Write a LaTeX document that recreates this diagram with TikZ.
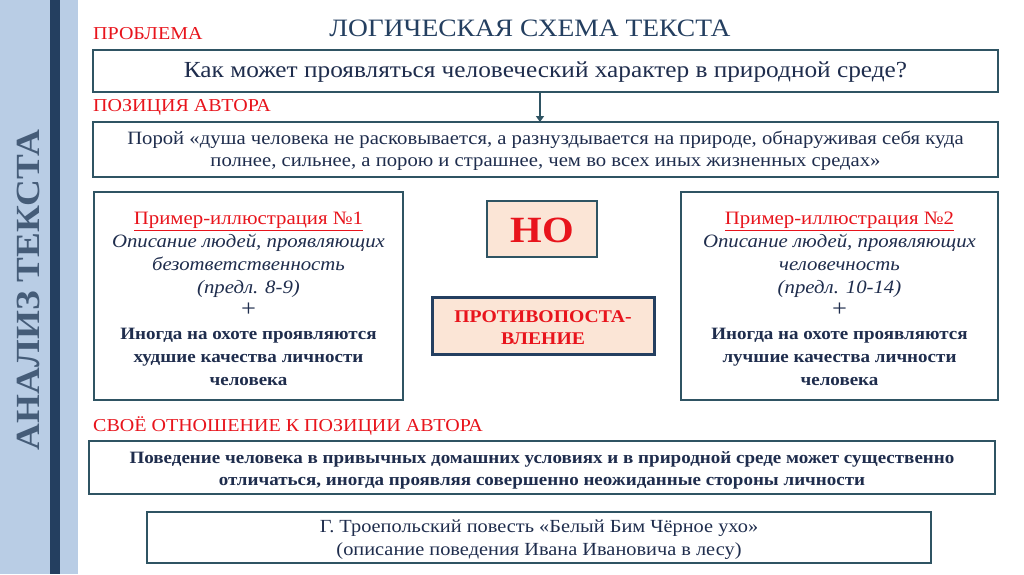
\documentclass[tikz,border=0pt]{standalone}
\usepackage{fontspec}
\setmainfont[FakeStretch=1.1]{Liberation Serif}
\usetikzlibrary{arrows.meta}
\definecolor{band}{HTML}{B9CDE5}
\definecolor{navy}{HTML}{243F60}
\definecolor{boxc}{HTML}{2F5463}
\definecolor{txt}{HTML}{1F2D4D}
\definecolor{redc}{HTML}{E8141C}
\definecolor{peach}{HTML}{FBE5D6}
\tikzset{
  frame/.style={draw=boxc, line width=2.6pt, inner sep=0pt},
  lbl/.style={anchor=west, text=redc, font=\fontsize{18.2}{20}\selectfont, inner sep=0pt},
  body/.style={text=txt, align=center, font=\fontsize{18.8}{22}\selectfont},
  exbox/.style={text=txt, align=center, font=\fontsize{18.9}{23}\selectfont},
}
\newcommand{\bb}[1]{{\bfseries\fontsize{17.3}{23}\selectfont #1}}
\begin{document}
\begin{tikzpicture}[x=1pt,y=-1pt]
\useasboundingbox (0,0) rectangle (1024,574);
\fill[white] (0,0) rectangle (1024,574);
\fill[band] (0,0) rectangle (78,574);
\fill[navy] (50,0) rectangle (60,574);
\node[rotate=90, text=navy!85!white, font=\bfseries\fontsize{33.8}{40}\selectfont] (side) at (28,290) {АНАЛИЗ ТЕКСТА};
\node[text=navy, font=\fontsize{25}{30}\selectfont] (title) at (530,28) {ЛОГИЧЕСКАЯ СХЕМА ТЕКСТА};
\node[lbl] (l1) at (93,34) {ПРОБЛЕМА};
\draw[frame] (93,50) rectangle (998,92);
\node[body, font=\fontsize{23}{26}\selectfont] (b1) at (545.5,72) {Как может проявляться человеческий характер в природной среде?};
\node[lbl] (l2) at (93,107) {ПОЗИЦИЯ АВТОРА};
\draw[frame] (93,122) rectangle (998,177);
\node[body] (b2) at (545.5,151) {Порой «душа человека не расковывается, а разнуздывается на природе, обнаруживая себя куда\\полнее, сильнее, а порою и страшнее, чем во всех иных жизненных средах»};
\coordinate (a1) at (540,92);
\coordinate (a2) at (540,122);
\draw[boxc, line width=1.6pt, -{Triangle[length=6pt,width=8pt]}] (a1) -- (a2);
\draw[frame] (94,192) rectangle (403,400);
\node[exbox] (ex1) at (248.5,299) {\textcolor{redc}{\underline{Пример-иллюстрация №1}}\\\textit{Описание людей, проявляющих}\\\textit{безответственность}\\\textit{(предл. 8-9)}\\{\fontsize{24}{23}\selectfont +}\\\bb{Иногда на охоте проявляются}\\\bb{худшие качества личности}\\\bb{человека}};
\draw[frame] (681,192) rectangle (998,400);
\node[exbox] (ex2) at (839.5,299) {\textcolor{redc}{\underline{Пример-иллюстрация №2}}\\\textit{Описание людей, проявляющих}\\\textit{человечность}\\\textit{(предл. 10-14)}\\{\fontsize{24}{23}\selectfont +}\\\bb{Иногда на охоте проявляются}\\\bb{лучшие качества личности}\\\bb{человека}};
\draw[frame, fill=peach] (487,201) rectangle (597,257);
\node[text=redc, font=\bfseries\fontsize{37}{40}\selectfont] (no) at (542,230) {НО};
\draw[draw=navy, line width=3pt, fill=peach] (432,297) rectangle (654,354);
\node[text=redc, align=center, font=\bfseries\fontsize{17.9}{22}\selectfont] (pr) at (543,328) {ПРОТИВОПОСТА-\\ВЛЕНИЕ};
\node[lbl] (l3) at (93,426) {СВОЁ ОТНОШЕНИЕ К ПОЗИЦИИ АВТОРА};
\draw[frame] (89,441) rectangle (995,494);
\node[body, font=\bfseries\fontsize{17.3}{22}\selectfont] (b3) at (542,470.5) {Поведение человека в привычных домашних условиях и в природной среде может существенно\\отличаться, иногда проявляя совершенно неожиданные стороны личности};
\draw[frame] (147,512) rectangle (931,563);
\node[body, font=\fontsize{18.5}{23}\selectfont] (b4) at (539,540) {Г. Троепольский повесть «Белый Бим Чёрное ухо»\\(описание поведения Ивана Ивановича в лесу)};
\end{tikzpicture}
\end{document}
